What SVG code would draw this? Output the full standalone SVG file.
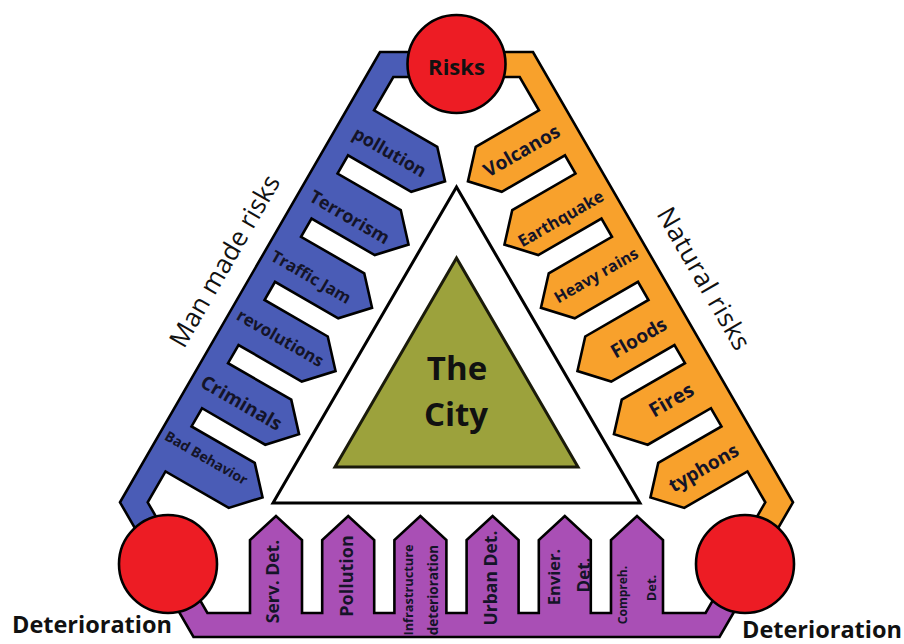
<svg xmlns="http://www.w3.org/2000/svg" width="904" height="644" viewBox="0 0 904 644">
<style>
.band{stroke:#000;stroke-width:2.6;stroke-linejoin:miter}
.blue{fill:#4a5cb6}
.orange{fill:#f8a12c}
.purple{fill:#a94fb5}
.node{fill:#ed1c24;stroke:#000;stroke-width:2.6}
.lbl{font-family:"Open Sans","Noto Sans","Liberation Sans",sans-serif;font-weight:700;fill:#141428;text-anchor:middle;dominant-baseline:central}
.big{font-family:"Open Sans","Noto Sans","Liberation Sans",sans-serif;font-weight:700;fill:#111}
.side{font-family:"Open Sans","Noto Sans","Liberation Sans",sans-serif;font-weight:400;fill:#111;font-size:26px;text-anchor:middle}
</style>
<rect width="904" height="644" fill="#fff"/>

<g id="connectors">
<polygon id="man-made-band" class="band blue" points="440,52 380,52 120,502.3 147.5,549.9 175.2,549.9 147.7,502.3 165.53,471.45 228.75,507.95 262.54,497.44 254.75,462.92 191.53,426.42 202.03,408.24 265.25,444.74 299.04,434.22 291.25,399.7 228.03,363.2 238.53,345.02 301.75,381.52 335.54,371 327.75,336.49 264.53,299.99 275.03,281.8 338.25,318.3 372.04,307.78 364.25,273.27 301.03,236.77 311.53,218.58 374.75,255.08 408.54,244.57 400.75,210.05 337.53,173.55 348.03,155.36 411.25,191.86 445.04,181.35 437.25,146.83 374.03,110.33 393.3,77 440,77"/>
<polygon id="natural-band" class="band orange" points="473,52 533,52 793,502.3 765.5,549.9 737.8,549.9 765.3,502.3 747.47,471.45 684.25,507.95 650.46,497.44 658.25,462.92 721.47,426.42 710.97,408.24 647.75,444.74 613.96,434.22 621.75,399.7 684.97,363.2 674.47,345.02 611.25,381.52 577.46,371 585.25,336.49 648.47,299.99 637.97,281.8 574.75,318.3 540.96,307.78 548.75,273.27 611.97,236.77 601.47,218.58 538.25,255.08 504.46,244.57 512.25,210.05 575.47,173.55 564.97,155.36 501.75,191.86 467.96,181.35 475.75,146.83 538.97,110.33 519.7,77 473,77"/>
<polygon id="deterioration-band" class="band purple" points="166,589.4 193.5,637 719.5,637 747,589.4 733.1,565.4 705.6,613 663,613 663,540 637,516 611,540 611,613 590.8,613 590.8,540 564.8,516 538.8,540 538.8,613 518.6,613 518.6,540 492.6,516 466.6,540 466.6,613 446.4,613 446.4,540 420.4,516 394.4,540 394.4,613 374.2,613 374.2,540 348.2,516 322.2,540 322.2,613 302,613 302,540 276,516 250,540 250,613 207.4,613 179.9,565.4"/>
</g>

<g id="node-risks">
<circle class="node" cx="456.5" cy="64" r="49"/>
<text class="big" x="456.5" y="75" font-size="22" text-anchor="middle">Risks</text>
</g>
<g id="node-deterioration-left">
<circle class="node" cx="168" cy="564" r="49"/>
<text class="big" x="12" y="633" font-size="23.5">Deterioration</text>
</g>
<g id="node-deterioration-right">
<circle class="node" cx="745" cy="564" r="49"/>
<text class="big" x="742" y="638" font-size="23.5">Deterioration</text>
</g>

<g id="node-city">
<polygon points="456.5,187 273,503 640,503" fill="#fff" stroke="#000" stroke-width="3"/>
<polygon points="456.5,258 335,467 578,467" fill="#9ca23c" stroke="#1a1a0a" stroke-width="3"/>
<text class="big" x="457" y="380" font-size="33" text-anchor="middle">The</text>
<text class="big" x="456" y="426" font-size="33" text-anchor="middle">City</text>
</g>

<g id="label-man-made">
<text class="side" transform="translate(232.5,265.5) rotate(-60)" textLength="194">Man made risks</text>
</g>
<g id="label-natural">
<text class="side" transform="translate(696,283) rotate(60)" textLength="160">Natural risks</text>
</g>

<g id="man-made-items">
<text class="lbl" font-size="18" transform="translate(390,151.5) rotate(30)">pollution</text>
<text class="lbl" font-size="18" transform="translate(350,216.5) rotate(30)">Terrorism</text>
<text class="lbl" font-size="16.5" transform="translate(311.5,276.5) rotate(30)">Traffic Jam</text>
<text class="lbl" font-size="17" transform="translate(280.5,337.5) rotate(30)">revolutions</text>
<text class="lbl" font-size="19" transform="translate(241.5,402.5) rotate(30)">Criminals</text>
<text class="lbl" font-size="14" transform="translate(206.5,457.5) rotate(30)">Bad Behavior</text>
</g>

<g id="natural-items">
<text class="lbl" font-size="19" transform="translate(521.5,150.5) rotate(-30)">Volcanos</text>
<text class="lbl" font-size="16.5" transform="translate(560.5,218) rotate(-30)">Earthquake</text>
<text class="lbl" font-size="16" transform="translate(596,275) rotate(-30)">Heavy rains</text>
<text class="lbl" font-size="19" transform="translate(638.5,337.5) rotate(-30)">Floods</text>
<text class="lbl" font-size="20" transform="translate(671,399.5) rotate(-30)">Fires</text>
<text class="lbl" font-size="19" transform="translate(703.5,467.5) rotate(-30)">typhons</text>
</g>

<g id="deterioration-items">
<text class="lbl" font-size="17.5" transform="translate(272,581.5) rotate(-90)">Serv. Det.</text>
<text class="lbl" font-size="18" transform="translate(346,576) rotate(-90)">Pollution</text>
<text class="lbl" font-size="12.8" transform="translate(408,590) rotate(-90)">Infrastructure</text>
<text class="lbl" font-size="13.5" transform="translate(433,590) rotate(-90)">deterioration</text>
<text class="lbl" font-size="17.5" transform="translate(490,578) rotate(-90)">Urban Det.</text>
<text class="lbl" font-size="16.5" transform="translate(553,577) rotate(-90)">Envier.</text>
<text class="lbl" font-size="17" transform="translate(583,575) rotate(-90)">Det.</text>
<text class="lbl" font-size="12" transform="translate(622.5,595) rotate(-90)">Compreh.</text>
<text class="lbl" font-size="13" transform="translate(651,588) rotate(-90)">Det.</text>
</g>
</svg>
